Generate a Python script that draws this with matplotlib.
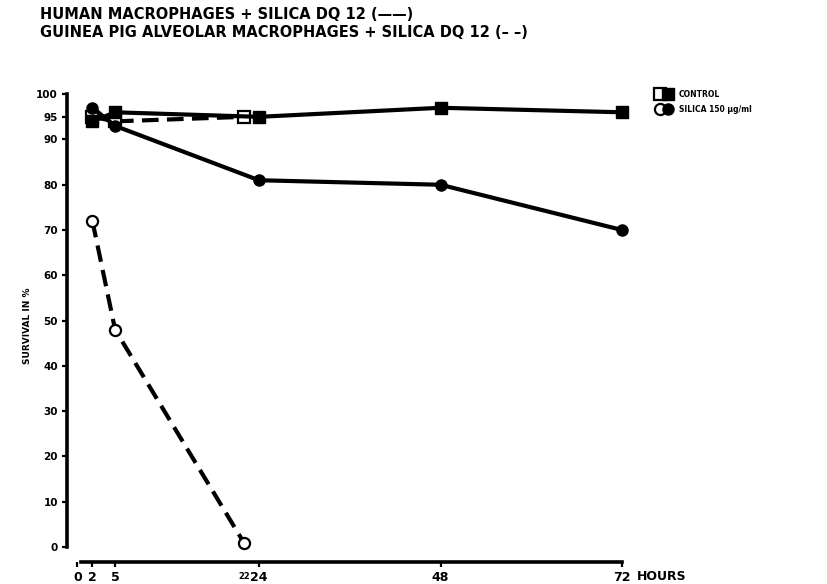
import matplotlib
matplotlib.use('Agg')
import matplotlib.pyplot as plt
from matplotlib.lines import Line2D
from matplotlib.legend_handler import HandlerTuple

plt.rcParams['font.family'] = ['DejaVu Sans']
plt.rcParams['font.weight'] = 'heavy'

# data (hours, survival %)
human_hours = [2, 5, 24, 48, 72]
human_control = [94, 96, 95, 97, 96]
human_silica = [97, 93, 81, 80, 70]

gp_hours = [2, 5, 22]
gp_control = [95, 94, 95]
gp_silica = [72, 48, 1]

x_ticks = [0, 2, 5, 24, 48, 72]
y_ticks = [0, 10, 20, 30, 40, 50, 60, 70, 80, 90, 95, 100]
y_labels = ['0', '10', '20', '30', '40', '50', '60', '70', '80', '90', '95', '100']

fig = plt.figure(figsize=(8.27, 5.84), dpi=100)
ax = fig.add_axes([0.081, 0.0377, 0.682, 0.808])
ax.set_xlim(-1.36, 73.16)
ax.set_ylim(-3.3, 100.9)

lw = 3.0
ms = 8
dash = (0, (4, 2))
ax.plot(gp_hours, gp_control, color='black', lw=lw, ls=dash,
        marker='s', mfc='white', mec='black', mew=1.6, ms=ms, clip_on=False, zorder=3)
ax.plot(gp_hours, gp_silica, color='black', lw=lw, ls=dash,
        marker='o', mfc='white', mec='black', mew=1.6, ms=ms, clip_on=False, zorder=3)
ax.plot(human_hours, human_control, color='black', lw=lw,
        marker='s', mfc='black', mec='black', ms=ms, clip_on=False, zorder=4)
ax.plot(human_hours, human_silica, color='black', lw=lw,
        marker='o', mfc='black', mec='black', ms=ms, clip_on=False, zorder=4)

for s in ['top', 'right']:
    ax.spines[s].set_visible(False)
ax.spines['left'].set_bounds(0, 100)
ax.spines['bottom'].set_bounds(0.5, 72)
ax.spines['left'].set_linewidth(2.6)
ax.spines['bottom'].set_linewidth(2.6)

ax.set_yticks(y_ticks)
ax.set_yticklabels(y_labels, fontsize=7.5, fontweight='heavy')
ax.set_xticks(x_ticks)
ax.set_xticklabels([str(v) for v in x_ticks], fontsize=9, fontweight='heavy')
ax.tick_params(axis='both', width=1.6, length=3.5, pad=3)
ax.text(22, -7.6, '22', fontsize=6, fontweight='heavy', ha='center', va='bottom')
ax.text(73.9, -6.4, 'HOURS', fontsize=9, fontweight='heavy', ha='left', va='center',
        clip_on=False)

ax.set_ylabel('SURVIVAL IN %', fontsize=6.5, fontweight='heavy', labelpad=3)

fig.text(0.048, 0.975, 'HUMAN MACROPHAGES + SILICA DQ 12 (\u2014\u2014)',
         fontsize=10.5, fontweight='heavy', ha='left', va='center')
fig.text(0.048, 0.944, 'GUINEA PIG ALVEOLAR MACROPHAGES + SILICA DQ 12 (\u2013 \u2013)',
         fontsize=10.5, fontweight='heavy', ha='left', va='center')

h_ctrl = (Line2D([], [], ls='none', marker='s', mfc='white', mec='black', ms=8, mew=1.6),
          Line2D([], [], ls='none', marker='s', mfc='black', mec='black', ms=8))
h_sil = (Line2D([], [], ls='none', marker='o', mfc='white', mec='black', ms=8, mew=1.6),
         Line2D([], [], ls='none', marker='o', mfc='black', mec='black', ms=8))
leg = fig.legend([h_ctrl, h_sil], ['CONTROL', 'SILICA 150 \u00b5g/ml'],
                 handler_map={tuple: HandlerTuple(ndivide=None, pad=0)},
                 loc='upper left', bbox_to_anchor=(0.785, 0.858), frameon=False,
                 prop={'size': 5.5, 'weight': 'heavy'}, handlelength=2.0,
                 handletextpad=1.0, labelspacing=0.8)

fig.savefig('out.png', dpi=100)
